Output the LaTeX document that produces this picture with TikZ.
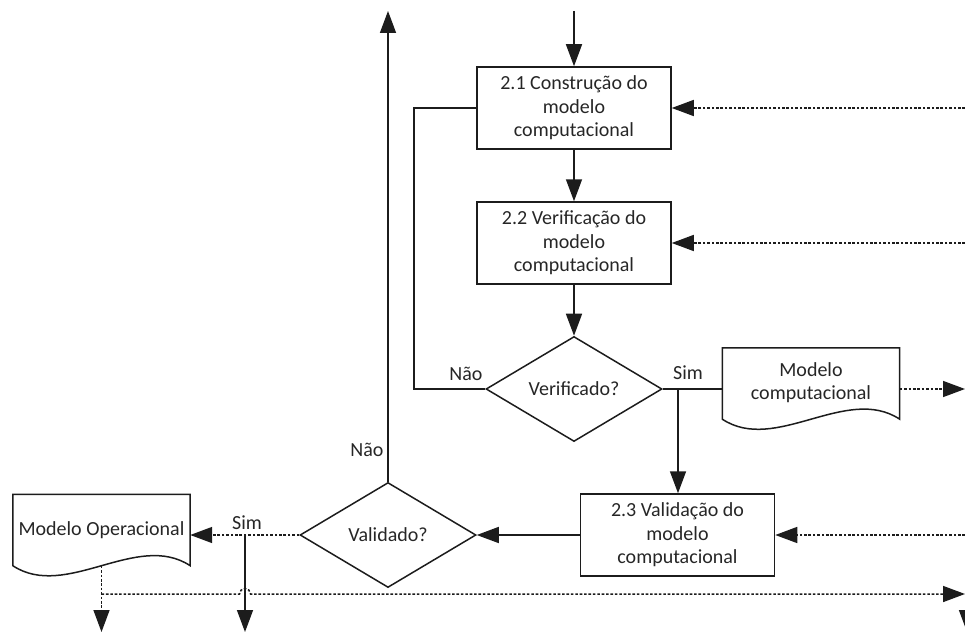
\documentclass[tikz,border=0pt]{standalone}
\usepackage{fontspec}
\setmainfont{Carlito}
\usetikzlibrary{shapes.geometric,arrows.meta,calc}
\definecolor{ink}{HTML}{1C1C1C}
\definecolor{txt}{HTML}{262626}

\begin{document}
\begin{tikzpicture}[x=1pt,y=-1pt,
  font=\fontsize{20}{23.5}\selectfont,
  every node/.style={text=txt},
  proc/.style={rectangle,draw=ink,line width=1.5pt,minimum width=194pt,minimum height=82pt,inner sep=0pt,align=center},
  dec/.style={diamond,draw=ink,line width=1.5pt,minimum width=176pt,minimum height=105pt,inner sep=0pt},
  docbox/.style={rectangle,minimum width=177pt,minimum height=71pt,inner sep=0pt,align=center},
  conn/.style={draw=ink,line width=1.5pt},
  flow/.style={conn,-{Triangle[length=22pt,width=16pt]}},
  dotted line/.style={draw=ink,line width=1.5pt,dash pattern=on 2.6pt off 1.8pt},
  dotflow/.style={dotted line,-{Triangle[length=22pt,width=16pt]}},
  lbl/.style={inner sep=0pt}
]
\useasboundingbox (0,0) rectangle (965,631);
\clip (0,0) rectangle (965,631);

% process boxes and decisions
\node[proc] (b21) at (574,108) {2.1 Construção do\\modelo\\computacional};
\node[proc] (b22) at (574,243) {2.2 Verificação do\\modelo\\computacional};
\node[dec]  (ver) at (574,389) {Verificado?};
\node[proc] (b23) at (677.5,535) {2.3 Validação do\\modelo\\computacional};
\node[dec]  (val) at (388,535) {Validado?};

% document shapes (text nodes, outlines drawn below)
\node[docbox] (mc) at (811,383.5) {\raisebox{3pt}{\begin{tabular}{@{}c@{}}Modelo\\computacional\end{tabular}}};
\node[docbox] (mo) at (101.5,530) {\raisebox{3pt}{Modelo Operacional}};
\foreach \d in {mc,mo}{
  \draw[ink,line width=1.5pt] (\d.north west) -- (\d.north east) -- (\d.south east)
    .. controls ($(\d.south west)!0.7!(\d.south east)+(0,-35)$)
       and ($(\d.south west)!0.3!(\d.south east)+(0,35)$) .. (\d.south west) -- cycle;
}

% branch labels
\node[lbl] (nao1) at (466,374) {Não};
\node[lbl] (sim1) at (688,373) {Sim};
\node[lbl] (nao2) at (367,450) {Não};
\node[lbl] (sim2) at (247,523) {Sim};

% free ends of connectors
\coordinate (topin) at (574,11);
\coordinate (upout) at (388,11);
\coordinate (loop)  at (414,108);
\coordinate (j1)    at (678,389);
\coordinate (j2)    at (245,535);
\coordinate (in1)   at (965,108);
\coordinate (in2)   at (965,243);
\coordinate (in3)   at (965,535);
\coordinate (mcout) at (965,389);
\coordinate (down1) at (101.5,632);
\coordinate (down2) at (245,632);
\coordinate (bus)   at (101.5,594);
\coordinate (busend) at (965,594);
\coordinate (hop)   at (239.5,594);
\coordinate (edgeA) at (967,600);
\coordinate (edgeB) at (967,632);

% main flow
\draw[flow] (topin) -- (b21);
\draw[flow] (b21) -- (b22);
\draw[flow] (b22) -- (ver);
\draw[conn] (ver.west) -| (loop) -- (b21.west);
\draw[conn] (ver.east) -- (ver.east -| mc.west);
\draw[flow] (j1) -- (j1 |- b23.north);
\draw[flow] (b23.west) -- (val.east);
\draw[flow] (val.north) -- (upout);
\draw[flow] (j2) -- (down2);

% dotted inputs and outputs
\draw[dotflow] (in1) -- (b21.east);
\draw[dotflow] (in2) -- (b22.east);
\draw[dotflow] (in3) -- (b23.east);
\draw[dotflow] (mcout -| mc.east) -- (mcout);
\draw[dotflow] (val.west) -- (val.west -| mo.east);
\draw[dotflow] (mo.south) -- (down1);
\draw[dotflow] (bus) -- (hop) arc[start angle=180,end angle=360,radius=5.5] -- (busend);
\draw[flow] (edgeA) -- (edgeB);
\end{tikzpicture}
\end{document}
